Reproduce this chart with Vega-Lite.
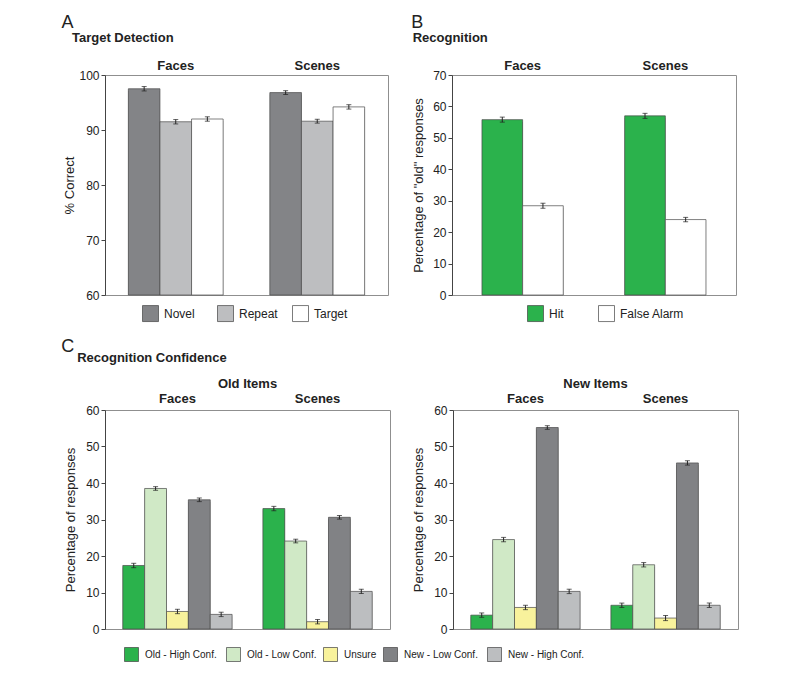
{
  "$schema": "https://vega.github.io/schema/vega-lite/v6.json",
  "background": "white",
  "padding": {"left": 61, "top": 13, "right": 5, "bottom": 5},
  "config": {
    "font": "Liberation Sans",
    "view": {"stroke": "#8f8f8f", "strokeWidth": 1},
    "axis": {"labelFont": "Liberation Sans", "labelFontSize": 12, "labelColor": "#222", "titleFont": "Liberation Sans", "titleFontSize": 13, "titleFontWeight": "normal", "titleColor": "#222", "domainColor": "#444", "tickColor": "#444", "tickSize": 4, "grid": false, "titlePadding": 5},
    "legend": {"labelFont": "Liberation Sans", "labelColor": "#222", "symbolType": "square", "symbolStrokeColor": "#444", "symbolStrokeWidth": 0.8},
    "title": {"font": "Liberation Sans", "color": "#222"},
    "bar": {"stroke": "#4a4a4a", "strokeWidth": 0.7}
  },
  "datasets": {
    "a": [
      {"stim": "Faces", "cond": "Novel", "v": 97.5, "lo": 97.1, "hi": 97.9},
      {"stim": "Faces", "cond": "Repeat", "v": 91.5, "lo": 91.1, "hi": 91.9},
      {"stim": "Faces", "cond": "Target", "v": 92.0, "lo": 91.6, "hi": 92.4},
      {"stim": "Scenes", "cond": "Novel", "v": 96.8, "lo": 96.45, "hi": 97.15},
      {"stim": "Scenes", "cond": "Repeat", "v": 91.6, "lo": 91.25, "hi": 91.95},
      {"stim": "Scenes", "cond": "Target", "v": 94.2, "lo": 93.8, "hi": 94.6}
    ],
    "b": [
      {"stim": "Faces", "resp": "Hit", "v": 55.8, "lo": 55.0, "hi": 56.6},
      {"stim": "Faces", "resp": "False Alarm", "v": 28.4, "lo": 27.6, "hi": 29.2},
      {"stim": "Scenes", "resp": "Hit", "v": 57.0, "lo": 56.2, "hi": 57.8},
      {"stim": "Scenes", "resp": "False Alarm", "v": 24.0, "lo": 23.3, "hi": 24.7}
    ],
    "cold": [
      {"stim": "Faces", "conf": "Old  - High Conf.", "v": 17.4, "lo": 16.8, "hi": 18.0},
      {"stim": "Faces", "conf": "Old - Low Conf.", "v": 38.5, "lo": 38.0, "hi": 39.0},
      {"stim": "Faces", "conf": "Unsure", "v": 4.8, "lo": 4.2, "hi": 5.4},
      {"stim": "Faces", "conf": "New  - Low Conf.", "v": 35.4, "lo": 34.9, "hi": 35.9},
      {"stim": "Faces", "conf": "New  - High Conf.", "v": 4.0, "lo": 3.4, "hi": 4.6},
      {"stim": "Scenes", "conf": "Old  - High Conf.", "v": 33.0, "lo": 32.4, "hi": 33.6},
      {"stim": "Scenes", "conf": "Old - Low Conf.", "v": 24.1, "lo": 23.6, "hi": 24.6},
      {"stim": "Scenes", "conf": "Unsure", "v": 2.0, "lo": 1.4, "hi": 2.6},
      {"stim": "Scenes", "conf": "New  - Low Conf.", "v": 30.6, "lo": 30.1, "hi": 31.1},
      {"stim": "Scenes", "conf": "New  - High Conf.", "v": 10.3, "lo": 9.7, "hi": 10.9}
    ],
    "cnew": [
      {"stim": "Faces", "conf": "Old  - High Conf.", "v": 3.8, "lo": 3.2, "hi": 4.4},
      {"stim": "Faces", "conf": "Old - Low Conf.", "v": 24.5, "lo": 23.9, "hi": 25.1},
      {"stim": "Faces", "conf": "Unsure", "v": 5.9, "lo": 5.3, "hi": 6.5},
      {"stim": "Faces", "conf": "New  - Low Conf.", "v": 55.2, "lo": 54.7, "hi": 55.7},
      {"stim": "Faces", "conf": "New  - High Conf.", "v": 10.3, "lo": 9.7, "hi": 10.9},
      {"stim": "Scenes", "conf": "Old  - High Conf.", "v": 6.5, "lo": 5.9, "hi": 7.1},
      {"stim": "Scenes", "conf": "Old - Low Conf.", "v": 17.6, "lo": 17.0, "hi": 18.2},
      {"stim": "Scenes", "conf": "Unsure", "v": 3.0, "lo": 2.3, "hi": 3.7},
      {"stim": "Scenes", "conf": "New  - Low Conf.", "v": 45.5, "lo": 44.9, "hi": 46.1},
      {"stim": "Scenes", "conf": "New  - High Conf.", "v": 6.5, "lo": 5.9, "hi": 7.1}
    ]
  },
  "resolve": {"scale": {"color": "independent", "xOffset": "independent"}},
  "spacing": 14,
  "vconcat": [
    {
      "spacing": 22,
      "resolve": {"scale": {"color": "independent", "xOffset": "independent"}},
      "hconcat": [
        {
          "title": {"text": "A", "anchor": "start", "fontSize": 18, "fontWeight": "normal", "dx": -2, "offset": 0},
          "resolve": {"scale": {"xOffset": "independent"}},
          "vconcat": [
            {
              "width": 283, "height": 220,
              "title": {"text": "Target Detection", "anchor": "start", "fontSize": 13, "fontWeight": "bold", "dx": 8, "offset": 14},
              "data": {"name": "a"},
              "encoding": {
                "x": {"field": "stim", "type": "nominal", "scale": {"type": "band", "domain": ["Faces", "Scenes"], "paddingInner": 0.33, "paddingOuter": 0.165}, "axis": {"orient": "top", "title": null, "domain": false, "ticks": false, "tickSize": 0, "labelAngle": 0, "labelFontWeight": "bold", "labelFontSize": 13, "labelColor": "#222", "labelPadding": 3}},
                "xOffset": {"field": "cond", "type": "nominal", "scale": {"type": "band", "domain": ["Novel", "Repeat", "Target"], "range": [0, 94.8], "paddingInner": 0, "paddingOuter": 0}}
              },
              "layer": [
                {"mark": {"type": "bar", "color": "#7a7a7a", "stroke": null, "xOffset": 2, "x2Offset": 2, "yOffset": 2},
                 "encoding": {"y": {"field": "v", "type": "quantitative", "title": "% Correct", "scale": {"domain": [60, 100]}, "axis": {"values": [60, 70, 80, 90, 100], "titlePadding": 2}}, "y2": {"datum": 60}}},
                {"mark": {"type": "bar"},
                 "encoding": {"y": {"field": "v", "type": "quantitative", "title": "% Correct", "axis": {"values": [60, 70, 80, 90, 100], "titlePadding": 2}}, "y2": {"datum": 60},
                   "color": {"field": "cond", "type": "nominal", "scale": {"domain": ["Novel", "Repeat", "Target"], "range": ["#838487", "#bdbec0", "#ffffff"]},
                     "legend": {"title": null, "orient": "none", "legendX": 37, "legendY": 230, "direction": "horizontal", "gridAlign": "all", "columnPadding": 13, "symbolSize": 256, "labelFontSize": 12, "labelOffset": 5}}}},
                {"mark": {"type": "rule", "color": "#222", "strokeWidth": 1},
                 "encoding": {"y": {"field": "lo", "type": "quantitative", "title": "% Correct", "axis": {"values": [60, 70, 80, 90, 100], "titlePadding": 2}}, "y2": {"field": "hi"}}},
                {"mark": {"type": "tick", "color": "#222", "orient": "horizontal", "size": 5, "thickness": 1},
                 "encoding": {"y": {"field": "lo", "type": "quantitative", "title": "% Correct", "axis": {"values": [60, 70, 80, 90, 100], "titlePadding": 2}}}},
                {"mark": {"type": "tick", "color": "#222", "orient": "horizontal", "size": 5, "thickness": 1},
                 "encoding": {"y": {"field": "hi", "type": "quantitative", "title": "% Correct", "axis": {"values": [60, 70, 80, 90, 100], "titlePadding": 2}}}}
              ]
            }
          ]
        },
        {
          "title": {"text": "B", "anchor": "start", "fontSize": 18, "fontWeight": "normal", "dx": -1, "offset": 0},
          "resolve": {"scale": {"xOffset": "independent"}},
          "vconcat": [
            {
              "width": 284, "height": 220,
              "title": {"text": "Recognition", "anchor": "start", "fontSize": 13, "fontWeight": "bold", "dx": 0, "offset": 14},
              "data": {"name": "b"},
              "encoding": {
                "x": {"field": "stim", "type": "nominal", "scale": {"type": "band", "domain": ["Faces", "Scenes"], "paddingInner": 0.43, "paddingOuter": 0.21}, "axis": {"orient": "top", "title": null, "domain": false, "ticks": false, "tickSize": 0, "labelAngle": 0, "labelFontWeight": "bold", "labelFontSize": 13, "labelColor": "#222", "labelPadding": 3}},
                "xOffset": {"field": "resp", "type": "nominal", "scale": {"type": "band", "domain": ["Hit", "False Alarm"], "range": [0, 81.3], "paddingInner": 0, "paddingOuter": 0}}
              },
              "layer": [
                {"mark": {"type": "bar", "color": "#7a7a7a", "stroke": null, "xOffset": 2, "x2Offset": 2, "yOffset": 2},
                 "encoding": {"y": {"field": "v", "type": "quantitative", "title": "Percentage of \"old\" responses", "scale": {"domain": [0, 70]}, "axis": {"values": [0, 10, 20, 30, 40, 50, 60, 70], "titlePadding": 7}}, "y2": {"datum": 0}}},
                {"mark": {"type": "bar"},
                 "encoding": {"y": {"field": "v", "type": "quantitative", "title": "Percentage of \"old\" responses", "axis": {"values": [0, 10, 20, 30, 40, 50, 60, 70], "titlePadding": 7}}, "y2": {"datum": 0},
                   "color": {"field": "resp", "type": "nominal", "scale": {"domain": ["Hit", "False Alarm"], "range": ["#2bb24c", "#ffffff"]},
                     "legend": {"title": null, "orient": "none", "legendX": 75, "legendY": 230, "direction": "horizontal", "gridAlign": "each", "columnPadding": 33, "symbolSize": 256, "labelFontSize": 12, "labelOffset": 5}}}},
                {"mark": {"type": "rule", "color": "#222", "strokeWidth": 1},
                 "encoding": {"y": {"field": "lo", "type": "quantitative", "title": "Percentage of \"old\" responses", "axis": {"values": [0, 10, 20, 30, 40, 50, 60, 70], "titlePadding": 7}}, "y2": {"field": "hi"}}},
                {"mark": {"type": "tick", "color": "#222", "orient": "horizontal", "size": 5, "thickness": 1},
                 "encoding": {"y": {"field": "lo", "type": "quantitative", "title": "Percentage of \"old\" responses", "axis": {"values": [0, 10, 20, 30, 40, 50, 60, 70], "titlePadding": 7}}}},
                {"mark": {"type": "tick", "color": "#222", "orient": "horizontal", "size": 5, "thickness": 1},
                 "encoding": {"y": {"field": "hi", "type": "quantitative", "title": "Percentage of \"old\" responses", "axis": {"values": [0, 10, 20, 30, 40, 50, 60, 70], "titlePadding": 7}}}}
              ]
            }
          ]
        }
      ]
    },
    {
      "title": {"text": "C", "anchor": "start", "fontSize": 18, "fontWeight": "normal", "dx": -3, "offset": -3.5},
      "resolve": {"scale": {"xOffset": "independent"}},
      "vconcat": [
        {
          "title": {"text": "Recognition Confidence", "anchor": "start", "fontSize": 13, "fontWeight": "bold", "dx": 13, "offset": 12},
          "spacing": 63,
          "bounds": "flush",
          "resolve": {"scale": {"color": "shared", "xOffset": "independent"}, "legend": {"color": "independent"}},
          "hconcat": [
            {
              "width": 285, "height": 219,
              "title": {"text": "Old Items", "anchor": "middle", "frame": "group", "fontSize": 13, "fontWeight": "bold", "offset": 1.5},
              "data": {"name": "cold"},
              "encoding": {
                "x": {"field": "stim", "type": "nominal", "scale": {"type": "band", "domain": ["Faces", "Scenes"], "paddingInner": 0.22, "paddingOuter": 0.127}, "axis": {"orient": "top", "title": null, "domain": false, "ticks": false, "tickSize": 0, "labelAngle": 0, "labelFontWeight": "bold", "labelFontSize": 13, "labelColor": "#222", "labelPadding": 5}},
                "xOffset": {"field": "conf", "type": "nominal", "scale": {"type": "band", "domain": ["Old  - High Conf.", "Old - Low Conf.", "Unsure", "New  - Low Conf.", "New  - High Conf."], "range": [0, 109.3], "paddingInner": 0, "paddingOuter": 0}}
              },
              "layer": [
                {"mark": {"type": "bar", "color": "#7a7a7a", "stroke": null, "xOffset": 2, "x2Offset": 2, "yOffset": 2},
                 "encoding": {"y": {"field": "v", "type": "quantitative", "title": "Percentage of  responses", "scale": {"domain": [0, 60]}, "axis": {"values": [0, 10, 20, 30, 40, 50, 60], "titlePadding": 8}}, "y2": {"datum": 0}}},
                {"mark": {"type": "bar"},
                 "encoding": {"y": {"field": "v", "type": "quantitative", "title": "Percentage of  responses", "axis": {"values": [0, 10, 20, 30, 40, 50, 60], "titlePadding": 8}}, "y2": {"datum": 0},
                   "color": {"field": "conf", "type": "nominal", "scale": {"domain": ["Old  - High Conf.", "Old - Low Conf.", "Unsure", "New  - Low Conf.", "New  - High Conf."], "range": ["#2bb24c", "#d0e9c6", "#f8f29c", "#818285", "#bcbec0"]},
                     "legend": {"title": null, "orient": "none", "legendX": 19, "legendY": 237, "direction": "horizontal", "gridAlign": "none", "columnPadding": 5, "symbolSize": 196, "labelFontSize": 10, "labelOffset": 6}}}},
                {"mark": {"type": "rule", "color": "#222", "strokeWidth": 1},
                 "encoding": {"y": {"field": "lo", "type": "quantitative", "title": "Percentage of  responses", "axis": {"values": [0, 10, 20, 30, 40, 50, 60], "titlePadding": 8}}, "y2": {"field": "hi"}}},
                {"mark": {"type": "tick", "color": "#222", "orient": "horizontal", "size": 5, "thickness": 1},
                 "encoding": {"y": {"field": "lo", "type": "quantitative", "title": "Percentage of  responses", "axis": {"values": [0, 10, 20, 30, 40, 50, 60], "titlePadding": 8}}}},
                {"mark": {"type": "tick", "color": "#222", "orient": "horizontal", "size": 5, "thickness": 1},
                 "encoding": {"y": {"field": "hi", "type": "quantitative", "title": "Percentage of  responses", "axis": {"values": [0, 10, 20, 30, 40, 50, 60], "titlePadding": 8}}}}
              ]
            },
            {
              "width": 285, "height": 219,
              "title": {"text": "New Items", "anchor": "middle", "frame": "group", "fontSize": 13, "fontWeight": "bold", "offset": 1.5},
              "data": {"name": "cnew"},
              "encoding": {
                "x": {"field": "stim", "type": "nominal", "scale": {"type": "band", "domain": ["Faces", "Scenes"], "paddingInner": 0.22, "paddingOuter": 0.127}, "axis": {"orient": "top", "title": null, "domain": false, "ticks": false, "tickSize": 0, "labelAngle": 0, "labelFontWeight": "bold", "labelFontSize": 13, "labelColor": "#222", "labelPadding": 5}},
                "xOffset": {"field": "conf", "type": "nominal", "scale": {"type": "band", "domain": ["Old  - High Conf.", "Old - Low Conf.", "Unsure", "New  - Low Conf.", "New  - High Conf."], "range": [0, 109.3], "paddingInner": 0, "paddingOuter": 0}}
              },
              "layer": [
                {"mark": {"type": "bar", "color": "#7a7a7a", "stroke": null, "xOffset": 2, "x2Offset": 2, "yOffset": 2},
                 "encoding": {"y": {"field": "v", "type": "quantitative", "title": "Percentage of  responses", "scale": {"domain": [0, 60]}, "axis": {"values": [0, 10, 20, 30, 40, 50, 60], "titlePadding": 8}}, "y2": {"datum": 0}}},
                {"mark": {"type": "bar"},
                 "encoding": {"y": {"field": "v", "type": "quantitative", "title": "Percentage of  responses", "axis": {"values": [0, 10, 20, 30, 40, 50, 60], "titlePadding": 8}}, "y2": {"datum": 0},
                   "color": {"field": "conf", "type": "nominal", "legend": null}}},
                {"mark": {"type": "rule", "color": "#222", "strokeWidth": 1},
                 "encoding": {"y": {"field": "lo", "type": "quantitative", "title": "Percentage of  responses", "axis": {"values": [0, 10, 20, 30, 40, 50, 60], "titlePadding": 8}}, "y2": {"field": "hi"}}},
                {"mark": {"type": "tick", "color": "#222", "orient": "horizontal", "size": 5, "thickness": 1},
                 "encoding": {"y": {"field": "lo", "type": "quantitative", "title": "Percentage of  responses", "axis": {"values": [0, 10, 20, 30, 40, 50, 60], "titlePadding": 8}}}},
                {"mark": {"type": "tick", "color": "#222", "orient": "horizontal", "size": 5, "thickness": 1},
                 "encoding": {"y": {"field": "hi", "type": "quantitative", "title": "Percentage of  responses", "axis": {"values": [0, 10, 20, 30, 40, 50, 60], "titlePadding": 8}}}}
              ]
            }
          ]
        }
      ]
    }
  ]
}
